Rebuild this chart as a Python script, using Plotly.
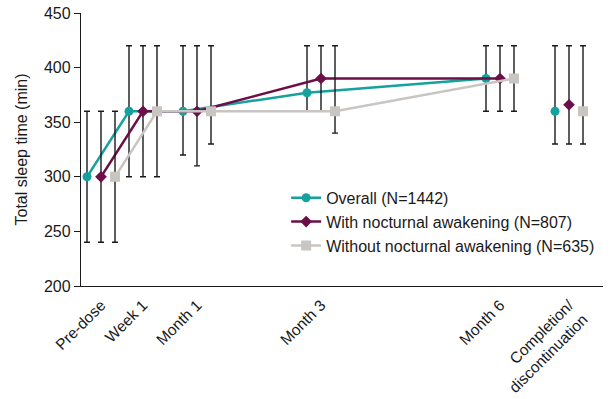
import plotly.graph_objects as go

# Visit labels and axis positions
visits = ["Pre-dose", "Week 1", "Month 1", "Month 3", "Month 6", "Completion/<br>discontinuation"]
visit_x = [20, 62, 116, 240, 419, 488]
series_offset = [-14, 0, 14]

names = ["Overall (N=1442)", "With nocturnal awakening (N=807)", "Without nocturnal awakening (N=635)"]
colors = ["#15a19d", "#6c0e47", "#c9c5c2"]
symbols = ["circle", "diamond", "square"]
msizes = [9, 9, 10]

# Total sleep time (min): median, lower and upper of error bar
overall = [300, 360, 360, 377, 390, 360]
overall_lo = [240, 300, 320, 360, 360, 330]
overall_hi = [360, 420, 420, 420, 420, 420]

with_na = [300, 360, 360, 390, 390, 366]
with_lo = [240, 300, 310, 360, 360, 330]
with_hi = [360, 420, 420, 420, 420, 420]

without_na = [300, 360, 360, 360, 390, 360]
without_lo = [240, 300, 330, 340, 360, 330]
without_hi = [360, 420, 420, 420, 420, 420]

series = [(overall, overall_lo, overall_hi), (with_na, with_lo, with_hi), (without_na, without_lo, without_hi)]

fig = go.Figure()
for i, (vals, lo, hi) in enumerate(series):
    xs = [v + series_offset[i] for v in visit_x]
    # connected part (first five visits)
    fig.add_trace(go.Scatter(
        x=xs[:5], y=vals[:5], mode="lines+markers", name=names[i],
        legendgroup=f"g{i}",
        line=dict(color=colors[i], width=2.5),
        marker=dict(color=colors[i], symbol=symbols[i], size=msizes[i]),
        error_y=dict(type="data", symmetric=False,
                     array=[h - v for h, v in zip(hi[:5], vals[:5])],
                     arrayminus=[v - l for v, l in zip(vals[:5], lo[:5])],
                     color="#1a1a1a", thickness=1.4, width=3),
    ))
    # completion/discontinuation point (not connected)
    fig.add_trace(go.Scatter(
        x=xs[5:], y=vals[5:], mode="markers", name=names[i], showlegend=False,
        legendgroup=f"g{i}",
        marker=dict(color=colors[i], symbol=symbols[i], size=msizes[i]),
        error_y=dict(type="data", symmetric=False,
                     array=[hi[5] - vals[5]], arrayminus=[vals[5] - lo[5]],
                     color="#1a1a1a", thickness=1.4, width=3),
    ))

fig.update_layout(
    width=616, height=399,
    margin=dict(l=81, r=13, t=13, b=113),
    paper_bgcolor="white", plot_bgcolor="white",
    font=dict(family="Liberation Sans, Arial, sans-serif", size=16, color="#1a1a1a"),
    showlegend=True,
    legend=dict(x=0.393, y=0.385, xanchor="left", yanchor="top",
                bgcolor="rgba(0,0,0,0)", tracegroupgap=0,
                font=dict(size=16)),
    xaxis=dict(range=[0, 522], showgrid=False, zeroline=False, automargin=False,
               showline=True, linecolor="#1a1a1a", linewidth=1.3,
               tickmode="array", tickvals=visit_x, ticktext=visits,
               tickangle=-45, ticks="", ticklabelstandoff=3, tickfont=dict(size=15.5)),
    yaxis=dict(range=[200, 450], showgrid=False, zeroline=False, automargin=False,
               showline=True, linecolor="#1a1a1a", linewidth=1.3,
               tickvals=[200, 250, 300, 350, 400, 450],
               ticks="outside", ticklen=6, tickcolor="#1a1a1a", tickwidth=1.3,
               title=dict(text="Total sleep time (min)", standoff=12, font=dict(size=16)),
               tickfont=dict(size=16)),
)

fig.write_html("out.html")
